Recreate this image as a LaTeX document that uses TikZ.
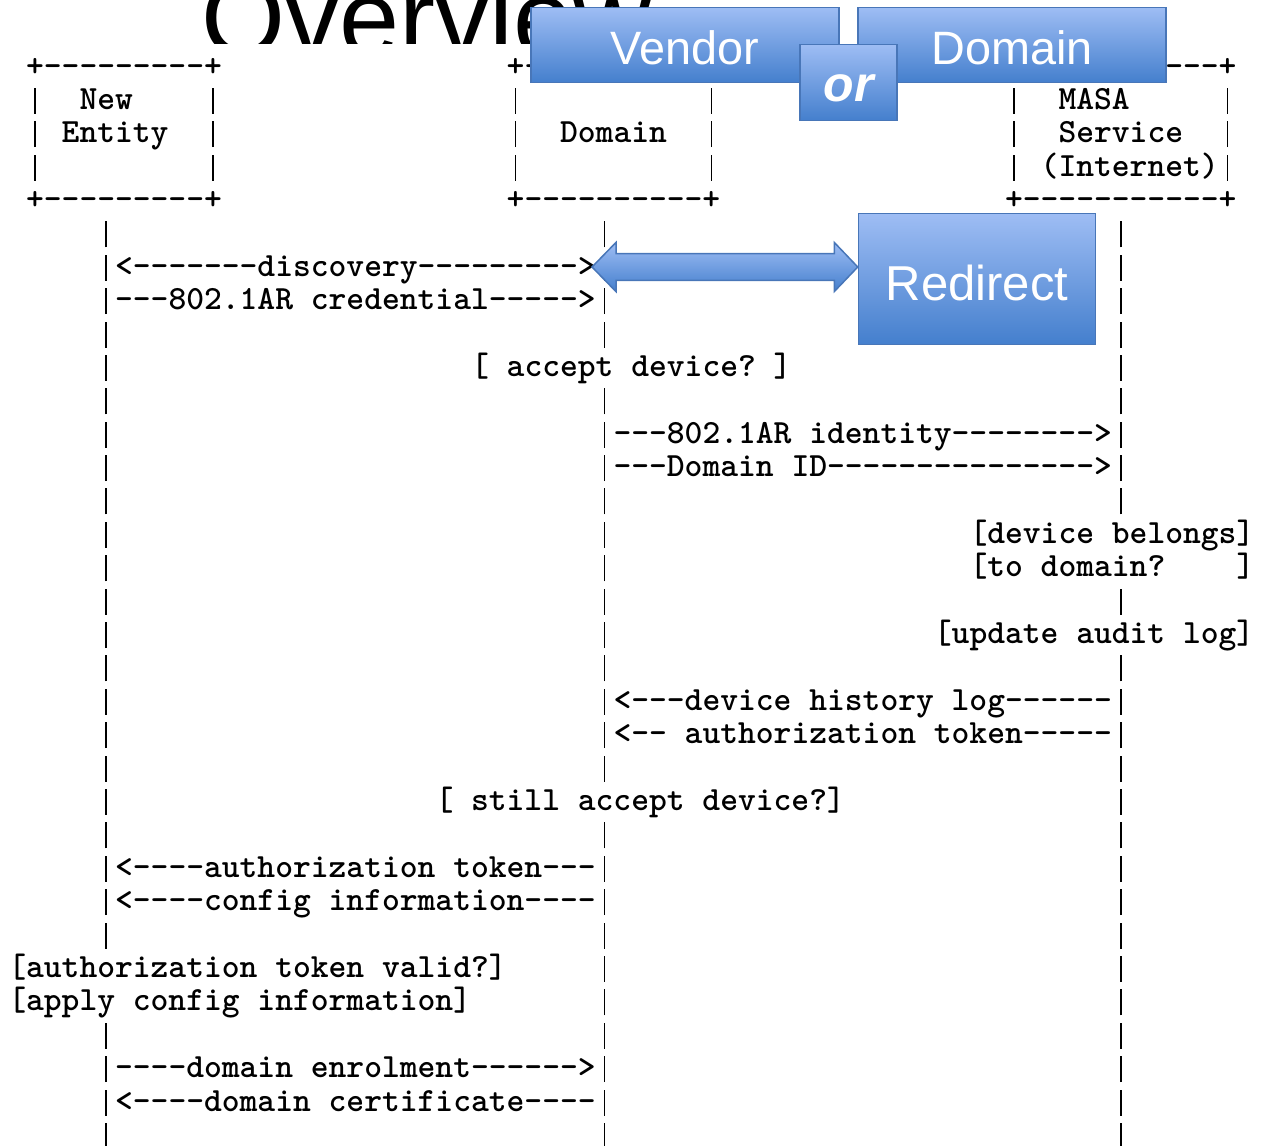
\documentclass[tikz,border=0pt]{standalone}
\usepackage{fontspec}
\usetikzlibrary{calc}
\newfontfamily\asciifont{lmmonolt10-bold.otf}
\newfontfamily\slidefont{Liberation Sans}
% one character cell of the typewriter grid
\newdimen\cw
\cw=8.9pt
\newcommand\gap[1]{\hspace*{#1\cw}}
\newcommand\vb{\makebox[\cw]{\rule[-2.2pt]{0.8pt}{13pt}}}
\newcommand\lifes{\gap{5}\vb\gap{27}\vb\gap{28}\vb}
\newcommand\ascrow[2]{\node[asc] (r#1) at (8.3,{76+33.39*#1}) {#2};}
\definecolor{boxtop}{RGB}{158,189,244}
\definecolor{boxbot}{RGB}{68,127,205}
\definecolor{boxedge}{RGB}{72,118,184}
\begin{document}
\begin{tikzpicture}[x=0.5pt,y=-0.5pt,
  asc/.style={anchor=base west,inner sep=0pt,outer sep=0pt,
    font=\asciifont\fontsize{16.952pt}{20pt}\selectfont},
  slidebox/.style={draw=boxedge,line width=0.75pt,top color=boxtop,bottom color=boxbot,
    inner sep=0pt,text=white,text depth=0pt,
    font=\slidefont\fontsize{23.4pt}{28pt}\selectfont},
  arrowbody/.style={draw=boxedge,line width=0.75pt,top color=boxtop,bottom color=boxbot,line join=miter},
  titletext/.style={anchor=base west,inner sep=0pt,text=black,
    font=\slidefont\fontsize{54pt}{58pt}\selectfont}]
\useasboundingbox (0,0) rectangle (1261,1145);
\clip (0,0) rectangle (1261,1145);

% sequence chart in fixed-width text
\ascrow{0}{\gap{1}+---------+\gap{16}+----------+\gap{16}+-----------+}
\ascrow{1}{\gap{1}\vb\gap{2}New\gap{4}\vb\gap{16}\vb\gap{10}\vb\gap{16}\vb\gap{2}MASA\gap{5}\vb}
\ascrow{2}{\gap{1}\vb\gap{1}Entity\gap{2}\vb\gap{16}\vb\gap{2}Domain\gap{2}\vb\gap{16}\vb\gap{2}Service\gap{2}\vb}
\ascrow{3}{\gap{1}\vb\gap{9}\vb\gap{16}\vb\gap{10}\vb\gap{16}\vb\gap{1}(Internet)\vb}
\ascrow{4}{\gap{1}+---------+\gap{16}+----------+\gap{16}+-----------+}
\ascrow{5}{\lifes}
\ascrow{6}{\gap{5}\vb<-------discovery--------->\vb\gap{28}\vb}
\ascrow{7}{\gap{5}\vb---802.1AR~credential----->\vb\gap{28}\vb}
\ascrow{8}{\lifes}
\ascrow{9}{\gap{5}\vb\gap{20}[~accept~device?~]\gap{18}\vb}
\ascrow{10}{\lifes}
\ascrow{11}{\gap{5}\vb\gap{27}\vb---802.1AR~identity-------->\vb}
\ascrow{12}{\gap{5}\vb\gap{27}\vb---Domain~ID--------------->\vb}
\ascrow{13}{\lifes}
\ascrow{14}{\gap{5}\vb\gap{27}\vb\gap{20}[device~belongs]}
\ascrow{15}{\gap{5}\vb\gap{27}\vb\gap{20}[to~domain?\gap{4}]}
\ascrow{16}{\lifes}
\ascrow{17}{\gap{5}\vb\gap{27}\vb\gap{18}[update~audit~log]}
\ascrow{18}{\lifes}
\ascrow{19}{\gap{5}\vb\gap{27}\vb<---device~history~log------\vb}
\ascrow{20}{\gap{5}\vb\gap{27}\vb<--~authorization~token-----\vb}
\ascrow{21}{\lifes}
\ascrow{22}{\gap{5}\vb\gap{18}[~still~accept~device?]\gap{15}\vb}
\ascrow{23}{\lifes}
\ascrow{24}{\gap{5}\vb<----authorization~token---\vb\gap{28}\vb}
\ascrow{25}{\gap{5}\vb<----config~information----\vb\gap{28}\vb}
\ascrow{26}{\lifes}
\ascrow{27}{[authorization~token~valid?]\gap{5}\vb\gap{28}\vb}
\ascrow{28}{[apply~config~information]\gap{7}\vb\gap{28}\vb}
\ascrow{29}{\lifes}
\ascrow{30}{\gap{5}\vb----domain~enrolment------>\vb\gap{28}\vb}
\ascrow{31}{\gap{5}\vb<----domain~certificate----\vb\gap{28}\vb}
\ascrow{32}{\lifes}

% slide title, cut off by the page edge and the content area
\begin{scope}
  \clip (0,0) rectangle (1261,44);
  \node[titletext] (title) at (201,56) {Overview};
\end{scope}

% callout boxes
\node[slidebox,minimum width=154pt,minimum height=37.7pt,text height=20pt] (vendor) at (685,45) {Vendor};
\node[slidebox,minimum width=154pt,minimum height=37.7pt,text height=20pt] (domain) at (1012,45) {Domain};
\node[slidebox,minimum width=48.3pt,minimum height=38.2pt,text height=19pt,
  font=\slidefont\bfseries\itshape\fontsize{25pt}{30pt}\selectfont] (or) at (848.5,82.5) {or};
\node[slidebox,minimum width=118.5pt,minimum height=65.5pt,text height=21.3pt,
  font=\slidefont\fontsize{24.5pt}{29pt}\selectfont] (redirect) at (977,279) {Redirect};

% block arrow between the Domain lifeline and the Redirect box
\coordinate (tipL) at (592,267);
\coordinate (tipR) at (redirect.west |- tipL);
\path[arrowbody] (tipL) -- ++(24,-24.6) -- ++(0,11.3) -- ($(tipR)+(-23.5,-13.3)$)
  -- ++(0,-11.3) -- (tipR) -- ++(-23.5,24.6) -- ++(0,-11.3)
  -- ($(tipL)+(24,13.3)$) -- ++(0,11.3) -- cycle;
\end{tikzpicture}
\end{document}
